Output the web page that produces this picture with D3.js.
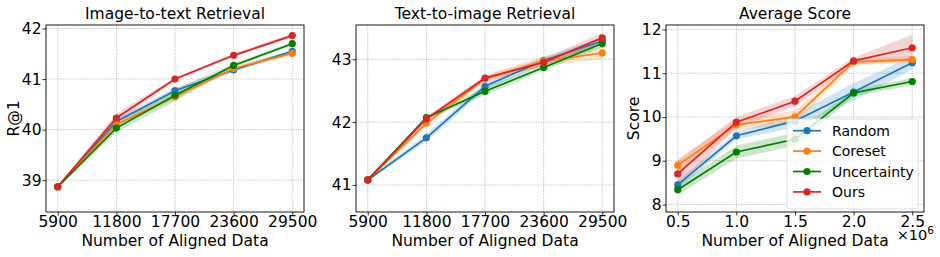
<!DOCTYPE html>
<html><head><meta charset="utf-8">
<script src="https://cdn.jsdelivr.net/npm/d3@7"></script>
<style>body{margin:0;background:#fff;} text{font-family:"DejaVu Sans",sans-serif;}</style>
</head><body>
<svg id="c" width="940" height="257"></svg>
<script>
const seriesNames = ["Random", "Coreset", "Uncertainty", "Ours"];
const seriesColors = ["#1f77b4", "#ff7f0e", "#008000", "#d62728"];

const retrievalX = [5900, 11800, 17700, 23600, 29500];
const retrievalTicks = ["5900", "11800", "17700", "23600", "29500"];
const scoreX = [0.5, 1.0, 1.5, 2.0, 2.5];
const scoreTicks = ["0.5", "1.0", "1.5", "2.0", "2.5"];

// Image-to-text retrieval R@1
const i2tRandom = [38.87, 40.16, 40.77, 41.18, 41.55];
const i2tCoreset = [38.87, 40.10, 40.65, 41.21, 41.51];
const i2tUncertainty = [38.87, 40.03, 40.68, 41.27, 41.70];
const i2tOurs = [38.87, 40.23, 41.00, 41.47, 41.86];
const i2tRandomStd = [0.03, 0.06, 0.06, 0.04, 0.04];
const i2tCoresetStd = [0.03, 0.06, 0.05, 0.04, 0.05];
const i2tUncertaintyStd = [0.03, 0.08, 0.12, 0.04, 0.03];
const i2tOursStd = [0.03, 0.09, 0.03, 0.04, 0.04];

// Text-to-image retrieval R@1
const t2iRandom = [41.08, 41.75, 42.57, 42.98, 43.29];
const t2iCoreset = [41.08, 41.98, 42.69, 42.97, 43.10];
const t2iUncertainty = [41.08, 42.07, 42.49, 42.87, 43.25];
const t2iOurs = [41.08, 42.05, 42.70, 42.95, 43.34];
const t2iRandomStd = [0.02, 0.06, 0.06, 0.05, 0.06];
const t2iCoresetStd = [0.02, 0.04, 0.05, 0.08, 0.10];
const t2iUncertaintyStd = [0.02, 0.03, 0.06, 0.05, 0.06];
const t2iOursStd = [0.02, 0.04, 0.04, 0.06, 0.08];

// Average score
const avgRandom = [8.45, 9.57, 9.91, 10.57, 11.24];
const avgCoreset = [8.90, 9.82, 10.00, 11.26, 11.31];
const avgUncertainty = [8.34, 9.20, 9.49, 10.55, 10.81];
const avgOurs = [8.70, 9.88, 10.36, 11.28, 11.58];
const avgRandomStd = [0.10, 0.08, 0.15, 0.20, 0.15];
const avgCoresetStd = [0.15, 0.12, 0.15, 0.08, 0.08];
const avgUncertaintyStd = [0.12, 0.15, 0.15, 0.08, 0.08];
const avgOursStd = [0.30, 0.12, 0.12, 0.08, 0.30];

const i2tYTicks = [39, 40, 41, 42];
const t2iYTicks = [41, 42, 43];
const avgYTicks = [8, 9, 10, 11, 12];

const panels = [
  {left: 46, title: "Image-to-text Retrieval", ylabel: "R@1", x: retrievalX, xt: retrievalTicks,
   ydom: [38.37, 42.07], yt: i2tYTicks,
   vals: [i2tRandom, i2tCoreset, i2tUncertainty, i2tOurs],
   std: [i2tRandomStd, i2tCoresetStd, i2tUncertaintyStd, i2tOursStd]},
  {left: 356, title: "Text-to-image Retrieval", ylabel: null, x: retrievalX, xt: retrievalTicks,
   ydom: [40.57, 43.545], yt: t2iYTicks,
   vals: [t2iRandom, t2iCoreset, t2iUncertainty, t2iOurs],
   std: [t2iRandomStd, t2iCoresetStd, t2iUncertaintyStd, t2iOursStd]},
  {left: 666, title: "Average Score", ylabel: "Score", x: scoreX, xt: scoreTicks,
   ydom: [7.83, 12.1], yt: avgYTicks,
   vals: [avgRandom, avgCoreset, avgUncertainty, avgOurs],
   std: [avgRandomStd, avgCoresetStd, avgUncertaintyStd, avgOursStd], legend: true, offset: true}
];

const svg = d3.select("#c");
const W = 258, topY = 25, bottomY = 212;
const FS = 15.5, LFS = 14;

panels.forEach(p => {
  const xmin = d3.min(p.x), xmax = d3.max(p.x), pad = (xmax - xmin) * 0.05;
  const x = d3.scaleLinear().domain([xmin - pad, xmax + pad]).range([p.left, p.left + W]);
  const y = d3.scaleLinear().domain(p.ydom).range([bottomY, topY]);
  const g = svg.append("g");

  // grid
  g.selectAll(".gx").data(p.x).join("line")
    .attr("x1", d => x(d)).attr("x2", d => x(d)).attr("y1", topY).attr("y2", bottomY)
    .attr("stroke", "#b0b0b0").attr("stroke-width", 0.8).attr("stroke-dasharray", "1.2,1.2");
  g.selectAll(".gy").data(p.yt).join("line")
    .attr("x1", p.left).attr("x2", p.left + W).attr("y1", d => y(d)).attr("y2", d => y(d))
    .attr("stroke", "#b0b0b0").attr("stroke-width", 0.8).attr("stroke-dasharray", "1.2,1.2");

  // bands
  p.vals.forEach((v, i) => {
    const area = d3.area().x((d, j) => x(p.x[j]))
      .y0((d, j) => y(d - p.std[i][j])).y1((d, j) => y(d + p.std[i][j]));
    g.append("path").attr("d", area(v)).attr("fill", seriesColors[i]).attr("fill-opacity", 0.2);
  });
  // lines and markers
  p.vals.forEach((v, i) => {
    const line = d3.line().x((d, j) => x(p.x[j])).y(d => y(d));
    g.append("path").attr("d", line(v)).attr("fill", "none")
      .attr("stroke", seriesColors[i]).attr("stroke-width", 1.7);
    g.selectAll(null).data(v).join("circle")
      .attr("cx", (d, j) => x(p.x[j])).attr("cy", d => y(d)).attr("r", 3.6)
      .attr("fill", seriesColors[i]);
  });

  // axes
  const xAxis = d3.axisBottom(x).tickValues(p.x).tickFormat((d, j) => p.xt[j]).tickSize(3.5).tickPadding(0.5);
  const xa = g.append("g").attr("transform", `translate(0,${bottomY})`).call(xAxis);
  const yAxis = d3.axisLeft(y).tickValues(p.yt).tickFormat(d3.format("d")).tickSize(3.5).tickPadding(1);
  const ya = g.append("g").attr("transform", `translate(${p.left},0)`).call(yAxis);
  [xa, ya].forEach(a => {
    a.select(".domain").remove();
    a.selectAll("text").attr("font-size", FS).attr("font-family", "DejaVu Sans").attr("fill", "#000");
    a.selectAll("line").attr("stroke", "#000").attr("stroke-width", 0.8);
  });
  g.append("rect").attr("x", p.left).attr("y", topY).attr("width", W).attr("height", bottomY - topY)
    .attr("fill", "none").attr("stroke", "#000").attr("stroke-width", 0.9);

  // title, labels
  g.append("text").attr("x", p.left + W / 2).attr("y", 18.5).attr("text-anchor", "middle")
    .attr("font-size", FS).text(p.title);
  g.append("text").attr("x", p.left + W / 2).attr("y", 246).attr("text-anchor", "middle")
    .attr("font-size", FS).text("Number of Aligned Data");
  if (p.ylabel) {
    g.append("text").attr("transform", `translate(${p.left - 27},${(topY + bottomY) / 2}) rotate(-90)`)
      .attr("text-anchor", "middle").attr("font-size", FS).text(p.ylabel);
  }
  if (p.offset) {
    const t = g.append("text").attr("x", 934).attr("y", 239.5).attr("text-anchor", "end").attr("font-size", 14.5);
    t.append("tspan").text("×10");
    t.append("tspan").attr("dy", -6).attr("font-size", 10.5).text("6");
  }
  if (p.legend) {
    const lg = g.append("g");
    lg.append("rect").attr("x", 787).attr("y", 119).attr("width", 131).attr("height", 90).attr("rx", 2)
      .attr("fill", "#fff").attr("fill-opacity", 0.8).attr("stroke", "#d8d8d8").attr("stroke-width", 0.8);
    seriesNames.forEach((n, i) => {
      const yy = 130.7 + i * 20.4;
      lg.append("line").attr("x1", 793).attr("x2", 821).attr("y1", yy).attr("y2", yy)
        .attr("stroke", seriesColors[i]).attr("stroke-width", 1.7);
      lg.append("circle").attr("cx", 807).attr("cy", yy).attr("r", 3.6).attr("fill", seriesColors[i]);
      lg.append("text").attr("x", 832).attr("y", yy + 5).attr("font-size", LFS).text(n);
    });
  }
});
</script>
</body></html>
